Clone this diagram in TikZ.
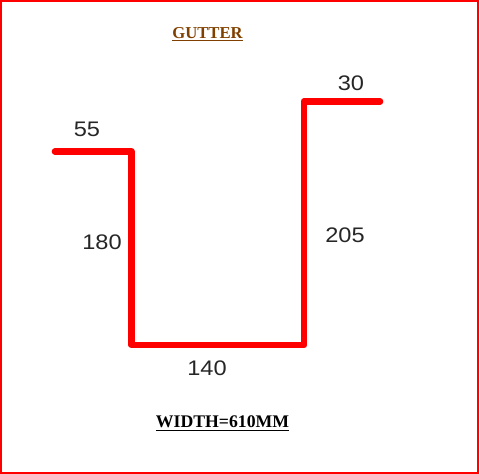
\documentclass[tikz,border=0pt]{standalone}
\usepackage{xcolor}
\usepackage{fontspec}
\setmainfont{Liberation Serif}
\newfontfamily\dimfont{Liberation Sans}[FakeStretch=1.12]
\usetikzlibrary{positioning}
\definecolor{gutterbrown}{RGB}{128,64,0}

\begin{document}
\begin{tikzpicture}[
						x = 0.75pt, y = -0.75pt,
						dimlabel/.style = {font = \dimfont\fontsize{15.8}{17}\selectfont, text = black!85, inner sep = 0},
						caption/.style = {inner sep = 0},
						gutterline/.style = {red, line width = 5pt, line cap = round, line join = round}
						]

					\useasboundingbox (0,0) rectangle (479,474);
					\draw[red,line width = 1.5pt] (1,1) rectangle (478,473);

					\draw[gutterline] (55,151.5) -- (131.5,151.5) -- (131.5,345) -- (304,345) -- (304,101.5) -- (380,101.5);

					\node[dimlabel] (lip1) at (87,129) {55};
					\node[dimlabel] (lip2) at (351,83) {30};
					\node[dimlabel] (side1) at (102,242) {180};
					\node[dimlabel] (side2) at (345,235) {205};
					\node[dimlabel] (base) at (207,368) {140};

					\node[caption,text = gutterbrown,font = \bfseries\fontsize{12.5}{14}\selectfont] (title) at (207.5,34) {\underline{GUTTER}};
					\node[caption,text = black,font = \bfseries\fontsize{13.3}{15}\selectfont] (width) at (222.5,423.5) {\underline{WIDTH=610MM}};

				\end{tikzpicture}
\end{document}
